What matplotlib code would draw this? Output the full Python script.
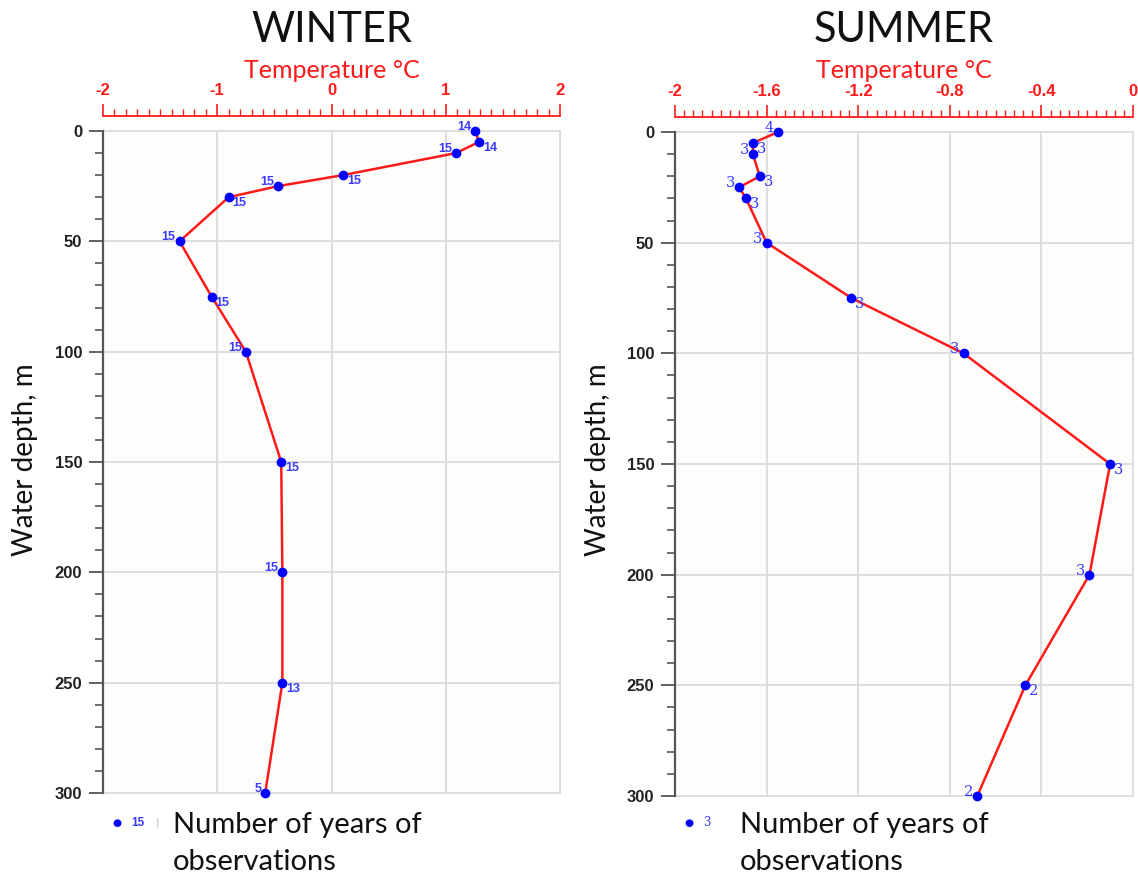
import matplotlib
matplotlib.use("Agg")
import matplotlib.pyplot as plt
from matplotlib.ticker import MultipleLocator

# ---- data -------------------------------------------------------------
depths = [0, 5, 10, 20, 25, 30, 50, 75, 100, 150, 200, 250, 300]

winter_temp = [1.26, 1.29, 1.09, 0.10, -0.47, -0.90, -1.33, -1.05, -0.75,
               -0.44, -0.43, -0.43, -0.58]
winter_years = [14, 14, 15, 15, 15, 15, 15, 15, 15, 15, 15, 13, 5]

summer_temp = [-1.55, -1.66, -1.66, -1.63, -1.72, -1.69, -1.60, -1.23, -0.74,
               -0.10, -0.19, -0.47, -0.68]
summer_years = [4, 3, 3, 3, 3, 3, 3, 3, 3, 3, 3, 2, 2]

depth_ticks = [0, 50, 100, 150, 200, 250, 300]

W, H = 1138, 876
fig = plt.figure(figsize=(W / 100, H / 100), dpi=100)
fig.patch.set_facecolor("white")

RED = "#ff1a1a"
BLUE = "#0000ff"
LBL_BLUE = "#3a3aff"
TITLE_FONT = ["Lato", "DejaVu Sans"]
TICK_FONT = ["Liberation Sans", "DejaVu Sans"]


def fx(px):
    return px / W


def fy(py):
    return 1 - py / H


def panel(rect_px, temps, years, xlim, major, minor, title, label_style):
    x0, y0, x1, y1 = rect_px
    ax = fig.add_axes([fx(x0), fy(y1), fx(x1) - fx(x0), fy(y0) - fy(y1)])
    ax.set_facecolor("#fdfefc")
    ax.set_xlim(*xlim)
    ax.set_ylim(300, 0)

    # top temperature axis
    ax.xaxis.tick_top()
    ax.xaxis.set_label_position("top")
    ax.xaxis.set_major_locator(MultipleLocator(major))
    ax.xaxis.set_minor_locator(MultipleLocator(minor))
    ax.spines["top"].set_position(("outward", 11))
    ax.spines["top"].set_color(RED)
    ax.spines["top"].set_linewidth(1.3)
    ax.tick_params(axis="x", which="major", direction="out", length=9,
                   width=1.2, color=RED, labelcolor=RED, pad=4)
    ax.tick_params(axis="x", which="minor", direction="out", length=5,
                   width=1.0, color=RED)
    ticks = [round(t, 2) for t in ax.get_xticks()
             if xlim[0] - 1e-9 <= t <= xlim[1] + 1e-9]
    ax.set_xticks(ticks)
    ax.set_xticklabels([f"{t:g}" if abs(t) > 1e-9 else "0" for t in ticks],
                       fontfamily=TICK_FONT, fontweight="bold", fontsize=12)

    # depth axis
    ax.yaxis.set_minor_locator(MultipleLocator(10))
    ax.spines["left"].set_color("#555555")
    ax.spines["left"].set_linewidth(1.6)
    ax.tick_params(axis="y", which="major", direction="out", length=10,
                   width=1.3, color="#555555", labelcolor="#222222", pad=5)
    ax.tick_params(axis="y", which="minor", direction="out", length=6,
                   width=1.2, color="#555555")
    ax.set_yticks(depth_ticks)
    ax.set_yticklabels([str(d) for d in depth_ticks], fontfamily=TICK_FONT,
                       fontweight="bold", fontsize=12)

    for s in ("right", "bottom"):
        ax.spines[s].set_visible(False)

    ax.grid(True, which="major", color="#dedede", linewidth=1.4)
    ax.set_axisbelow(True)
    for gl in ax.get_xgridlines() + ax.get_ygridlines():
        gl.set_clip_on(False)

    ax.plot(temps, depths, color=RED, linewidth=1.8, zorder=3, clip_on=False)
    ax.plot(temps, depths, "o", color=BLUE, markersize=6, zorder=4, clip_on=False)

    for i, (t, d, n) in enumerate(zip(temps, depths, years)):
        if i % 2 == 0:
            off, ha, va = (-4, 4), "right", "center"
        else:
            off, ha, va = (4, -6), "left", "center"
        ax.annotate(str(n), (t, d), xytext=off, textcoords="offset pixels",
                    ha=ha, va=va, color=LBL_BLUE, zorder=5, **label_style)

    cx = (x0 + x1) / 2
    fig.text(fx(cx), fy(30), title, ha="center", va="center",
             fontsize=30, fontfamily=TITLE_FONT, color="#111111")
    fig.text(fx(cx), fy(71), "Temperature °C", ha="center", va="center",
             fontsize=18, fontfamily=TITLE_FONT, color=RED)
    return ax


winter_style = dict(fontsize=9, fontweight="bold", fontfamily=TICK_FONT)
summer_style = dict(fontsize=10.5, fontfamily=["DejaVu Serif"])

panel((103, 131, 560, 793), winter_temp, winter_years, (-2, 2), 1, 0.1,
      "WINTER", winter_style)
panel((675, 132, 1133, 796), summer_temp, summer_years, (-2, 0), 0.4, 0.04,
      "SUMMER", summer_style)

# axis titles for depth
for xpx in (25, 598):
    fig.text(fx(xpx), fy(460), "Water depth, m", rotation=90, ha="center",
             va="center", fontsize=20, fontfamily=TITLE_FONT, color="#111111")


# key below each panel
def key(dot_x, num_x, num, num_style, bar_x, text_x):
    fig.text(fx(dot_x), fy(823), "●", ha="center", va="center", color=BLUE,
             fontsize=7.5, fontfamily=["DejaVu Sans"])
    fig.text(fx(num_x), fy(823), num, ha="left", va="center", color=LBL_BLUE,
             **num_style)
    if bar_x is not None:
        fig.text(fx(bar_x), fy(823), "|", ha="center", va="center",
                 color="#bbbbbb", fontsize=8)
    fig.text(fx(text_x), fy(833), "Number of years of", ha="left",
             va="baseline", fontsize=21, fontfamily=TITLE_FONT, color="#111111")
    fig.text(fx(text_x), fy(870), "observations", ha="left",
             va="baseline", fontsize=21, fontfamily=TITLE_FONT, color="#111111")


key(117, 131, "15", dict(fontsize=8.5, fontweight="bold", fontfamily=TICK_FONT), 157, 173)
key(689, 703, "3", dict(fontsize=8.5, fontfamily=["DejaVu Serif"]), None, 740)

fig.savefig("out.png", dpi=100)
